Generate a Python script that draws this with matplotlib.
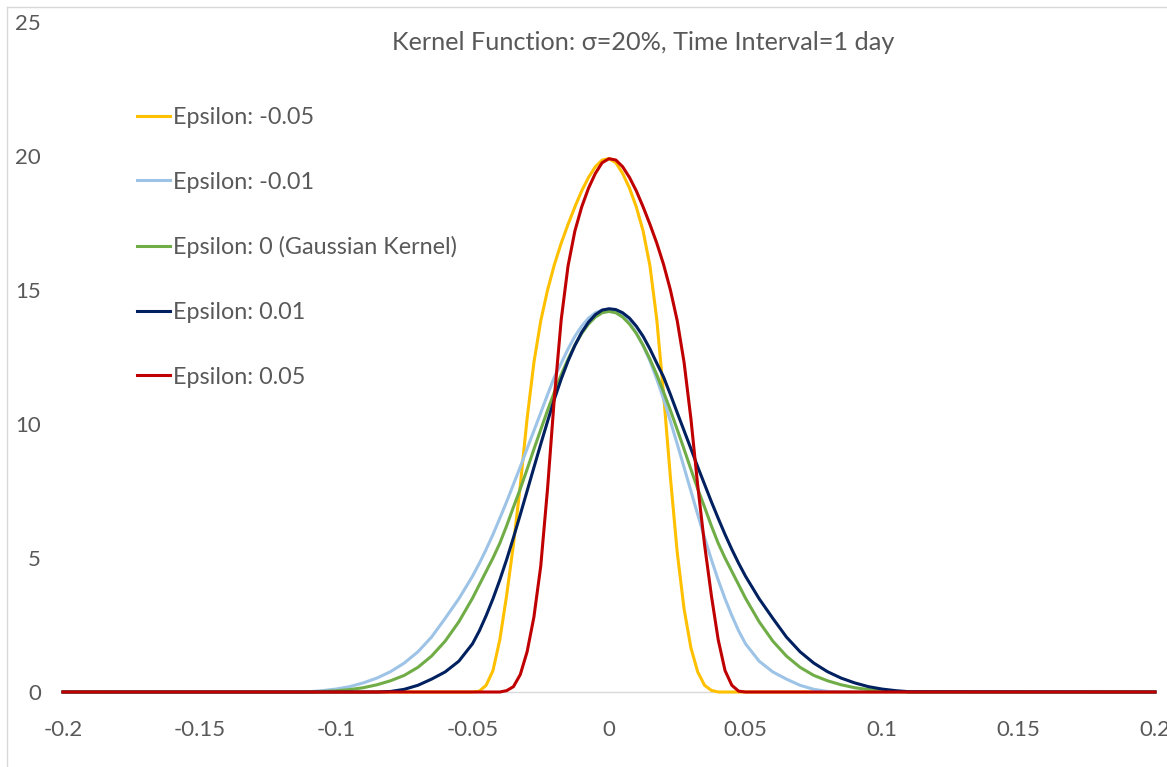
import matplotlib
matplotlib.use('Agg')
import matplotlib.pyplot as plt
from matplotlib.lines import Line2D

# x grid (return), coarse in the tails, fine in the centre
x_vals = [-0.2, -0.11, -0.105, -0.1, -0.095, -0.09, -0.085, -0.08, -0.075, -0.07, -0.065, -0.06, -0.055,
          -0.05, -0.0475, -0.045, -0.0425, -0.04, -0.0375, -0.035, -0.0325, -0.03, -0.0275, -0.025,
          -0.0225, -0.02, -0.0175, -0.015, -0.0125, -0.01, -0.0075, -0.005, -0.0025,
          0.0,
          0.0025, 0.005, 0.0075, 0.01, 0.0125, 0.015, 0.0175, 0.02, 0.0225, 0.025, 0.0275, 0.03,
          0.0325, 0.035, 0.0375, 0.04, 0.0425, 0.045, 0.0475, 0.05,
          0.055, 0.06, 0.065, 0.07, 0.075, 0.08, 0.085, 0.09, 0.095, 0.1, 0.105, 0.11, 0.2]

eps_m005 = [0, 0, 0, 0, 0, 0, 0, 0, 0, 0, 0, 0, 0,
            0, 0.03, 0.25, 0.8, 1.95, 3.6, 5.5, 7.7, 10.2, 12.3, 13.85,
            15.0, 15.95, 16.75, 17.45, 18.1, 18.7, 19.2, 19.6, 19.85,
            19.9,
            19.75, 19.35, 18.8, 18.1, 17.2, 15.9, 13.9, 11.1, 8.0, 5.2, 3.1, 1.65,
            0.75, 0.25, 0.06, 0, 0, 0, 0, 0,
            0, 0, 0, 0, 0, 0, 0, 0, 0, 0, 0, 0, 0]

eps_m001 = [0, 0.01, 0.05, 0.11, 0.2, 0.34, 0.52, 0.76, 1.08, 1.5, 2.05, 2.75, 3.48,
            4.32, 4.8, 5.32, 5.88, 6.48, 7.1, 7.75, 8.4, 9.08, 9.75, 10.42,
            11.1, 11.75, 12.27, 12.8, 13.27, 13.65, 13.95, 14.15, 14.25,
            14.25,
            14.2, 14.05, 13.78, 13.4, 12.92, 12.35, 11.68, 10.93, 10.1, 9.25, 8.38, 7.5,
            6.62, 5.76, 4.94, 4.18, 3.48, 2.85, 2.28, 1.8,
            1.15, 0.75, 0.48, 0.25, 0.1, 0.02, 0, 0, 0, 0, 0, 0, 0]

eps_0 = [0, 0, 0.02, 0.045, 0.09, 0.16, 0.27, 0.42, 0.62, 0.92, 1.34, 1.9, 2.62,
         3.5, 4.0, 4.5, 5.0, 5.55, 6.2, 6.9, 7.58, 8.31, 9.06, 9.79,
         10.51, 11.19, 11.84, 12.42, 12.94, 13.38, 13.73, 13.99, 14.15,
         14.2,
         14.15, 13.99, 13.73, 13.38, 12.94, 12.42, 11.84, 11.19, 10.51, 9.79, 9.06, 8.31,
         7.58, 6.9, 6.2, 5.55, 5.0, 4.5, 4.0, 3.5,
         2.62, 1.9, 1.34, 0.92, 0.62, 0.42, 0.27, 0.16, 0.09, 0.045, 0.02, 0, 0]

eps_p001 = [0, 0, 0, 0, 0, 0, 0, 0.02, 0.1, 0.25, 0.48, 0.75, 1.15,
            1.8, 2.28, 2.85, 3.48, 4.18, 4.94, 5.76, 6.62, 7.5, 8.38, 9.25,
            10.1, 10.93, 11.68, 12.35, 12.93, 13.42, 13.8, 14.08, 14.25,
            14.3,
            14.27, 14.15, 13.95, 13.65, 13.27, 12.8, 12.27, 11.75, 11.1, 10.42, 9.75, 9.08,
            8.4, 7.75, 7.1, 6.48, 5.88, 5.32, 4.8, 4.32,
            3.48, 2.75, 2.05, 1.5, 1.08, 0.76, 0.52, 0.34, 0.2, 0.11, 0.05, 0.01, 0]

eps_p005 = [0, 0, 0, 0, 0, 0, 0, 0, 0, 0, 0, 0, 0,
            0, 0, 0, 0, 0, 0.05, 0.2, 0.65, 1.5, 2.8, 4.7,
            7.6, 11.0, 13.9, 15.9, 17.2, 18.1, 18.8, 19.35, 19.75,
            19.9,
            19.85, 19.6, 19.2, 18.7, 18.1, 17.45, 16.75, 15.95, 15.0, 13.85, 12.3, 10.2,
            7.7, 5.5, 3.6, 1.95, 0.8, 0.25, 0.03, 0,
            0, 0, 0, 0, 0, 0, 0, 0, 0, 0, 0, 0, 0]

series = [eps_m005, eps_m001, eps_0, eps_p001, eps_p005]
series_labels = ['Epsilon: -0.05', 'Epsilon: -0.01', 'Epsilon: 0 (Gaussian Kernel)',
                 'Epsilon: 0.01', 'Epsilon: 0.05']
series_colors = ['#FFC000', '#9DC3E6', '#70AD47', '#002060', '#C00000']

x_ticks = [-0.2, -0.15, -0.1, -0.05, 0, 0.05, 0.1, 0.15, 0.2]
x_tick_labels = ['-0.2', '-0.15', '-0.1', '-0.05', '0', '0.05', '0.1', '0.15', '0.2']
y_ticks = [0, 5, 10, 15, 20, 25]

plt.rcParams['font.family'] = ['Lato', 'DejaVu Sans']
text_grey = '#595959'

W, H = 1167, 767
fig = plt.figure(figsize=(W / 100, H / 100), dpi=100)
ax = fig.add_axes([63 / W, 75 / H, 1092 / W, 670 / H])

for ys, lab, col in zip(series, series_labels, series_colors):
    ax.plot(x_vals, ys, color=col, lw=2.2, label=lab, clip_on=False, zorder=3)

ax.set_xlim(-0.2, 0.2)
ax.set_ylim(0, 25)
ax.set_xticks(x_ticks)
ax.set_xticklabels(x_tick_labels)
ax.set_yticks(y_ticks)
for s in ['top', 'right', 'left']:
    ax.spines[s].set_visible(False)
ax.spines['bottom'].set_color('#d9d9d9')
ax.spines['bottom'].set_linewidth(1)
ax.tick_params(axis='both', length=0, colors=text_grey, labelsize=16)
ax.tick_params(axis='x', pad=20)
ax.tick_params(axis='y', pad=16)

fig.text(643 / W, 1 - 42 / H, 'Kernel Function: σ=20%, Time Interval=1 day',
         ha='center', va='center', fontsize=18.2, color=text_grey)

leg = ax.legend(loc='upper left', bbox_to_anchor=(137 / W, 1 - 107 / H),
                bbox_transform=fig.transFigure, frameon=False, fontsize=16.8,
                handlelength=1.42, handletextpad=0.13, labelspacing=1.87,
                borderpad=0, borderaxespad=0)
for t in leg.get_texts():
    t.set_color(text_grey)

# chart area border (only the left and top edges are inside the crop)
fig.add_artist(Line2D([7 / W, 7 / W], [0, 1 - 7 / H], transform=fig.transFigure,
                      color='#d9d9d9', lw=1))
fig.add_artist(Line2D([7 / W, 1], [1 - 7 / H, 1 - 7 / H], transform=fig.transFigure,
                      color='#d9d9d9', lw=1))

fig.savefig('out.png', dpi=100)
